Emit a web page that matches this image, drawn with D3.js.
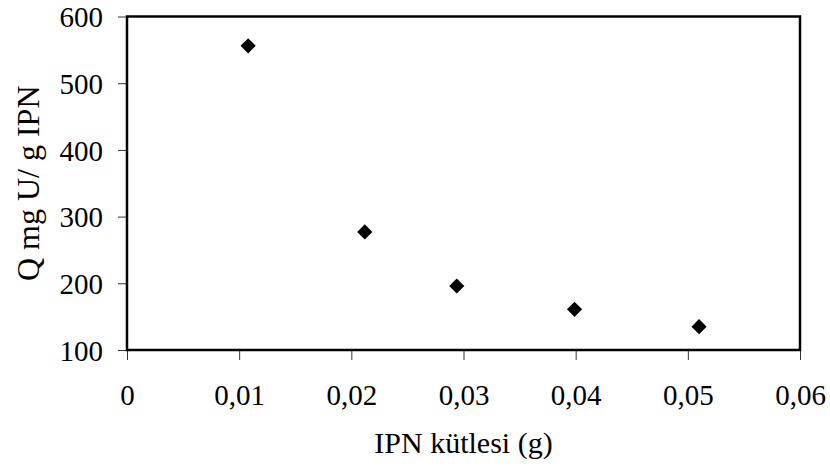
<html>
<head>
<meta charset="utf-8">
<title>IPN kütlesi</title>
<style>
  body { margin: 0; background: #fff; }
  svg text { font-family: "Liberation Serif", "Times New Roman", serif; fill: #000; }
</style>
</head>
<body>
<div id="chart"></div>
<script src="https://cdn.jsdelivr.net/npm/d3@7"></script>
<script>
// data
var masses = [0.0108, 0.0212, 0.0294, 0.0399, 0.0510];
var qValues = [556, 277, 196, 161, 135];
var xTicks = [0, 0.01, 0.02, 0.03, 0.04, 0.05, 0.06];
var yTicks = [100, 200, 300, 400, 500, 600];

(function(){
  var w = 830, h = 474,
      left = 127, right = 800, top = 16.5, bottom = 350,
      tickFont = 29;

  var svg = d3.select("#chart").append("svg")
    .attr("width", w)
    .attr("height", h);

  var x = d3.scaleLinear().domain([0, 0.06]).range([left, right]);
  var y = d3.scaleLinear().domain([100, 600]).range([bottom, top]);

  var fmt = function(d){ return d === 0 ? "0" : d3.format(".2f")(d).replace(".", ","); };

  // ticks
  var xAxis = svg.append("g")
    .attr("transform", "translate(0," + bottom + ")")
    .call(d3.axisBottom(x).tickValues(xTicks).tickFormat(fmt).tickSize(10).tickPadding(24));
  var yAxis = svg.append("g")
    .attr("transform", "translate(" + left + ",0)")
    .call(d3.axisLeft(y).tickValues(yTicks).tickSize(9).tickPadding(15));

  [xAxis, yAxis].forEach(function(g){
    g.attr("font-family", null).attr("font-size", null);
    g.select(".domain").remove();
    g.selectAll(".tick line").attr("stroke", "#333").attr("stroke-width", 1);
    g.selectAll(".tick text")
      .style("font-family", "'Liberation Serif', serif")
      .style("font-size", tickFont + "px")
      .attr("fill", "#000");
  });
  yAxis.selectAll(".tick text").attr("dy", "0.35em");

  // plot frame
  svg.append("rect")
    .attr("x", left)
    .attr("y", top)
    .attr("width", right - left)
    .attr("height", bottom - top)
    .attr("fill", "none")
    .attr("stroke", "#000")
    .attr("stroke-width", 2.5);

  // diamonds
  var pts = masses.map(function(m, i){ return { m: m, q: qValues[i] }; });
  svg.append("g").selectAll("path")
    .data(pts)
    .enter()
    .append("path")
      .attr("d", d3.symbol().type(d3.symbolSquare).size(115))
      .attr("transform", function(d){
        return "translate(" + x(d.m) + "," + y(d.q) + ") rotate(45)";
      })
      .attr("fill", "#000");

  // axis titles
  svg.append("text")
    .attr("x", (left + right) / 2)
    .attr("y", 453)
    .attr("text-anchor", "middle")
    .style("font-size", "30px")
    .text("IPN kütlesi (g)");

  svg.append("text")
    .attr("transform", "translate(39," + ((top + bottom) / 2) + ") rotate(-90)")
    .attr("text-anchor", "middle")
    .style("font-size", "32px")
    .text("Q mg U/ g IPN");
})();
</script>
</body>
</html>
